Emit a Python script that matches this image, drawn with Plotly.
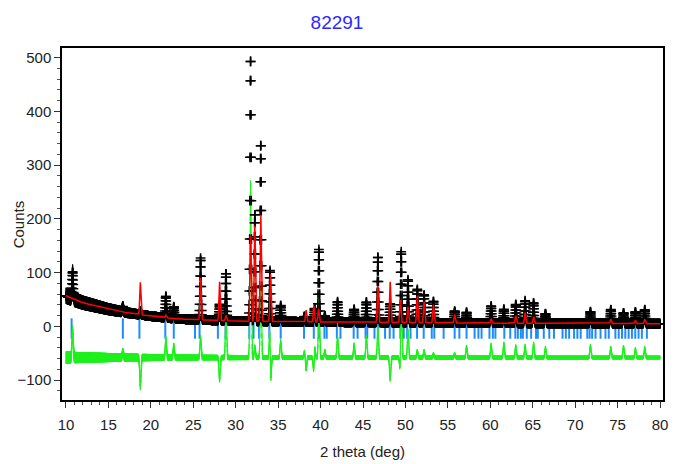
import numpy as np
import plotly.graph_objects as go

# Scan range (2theta, degrees)
scan_start, scan_end, scan_step = 10.0, 80.0, 0.02

# Refined background anchors
bg_theta = [10, 11, 12, 13, 14, 15, 17, 20, 23, 26, 30, 40, 50, 60, 80]
bg_counts = [57, 50, 44, 40, 36, 32, 26, 19, 14, 12, 10, 8, 7, 6, 5]

# Observed reflections: position (deg) and net height above background (counts)
obs_pos = [10.78, 16.7, 18.75, 21.77, 22.7, 25.86, 28.1, 28.85, 31.75, 32.25,
           32.95, 34.04, 35.3, 38.1, 39.3, 39.8, 40.5, 42.0, 43.95, 45.4,
           46.75, 48.2, 49.5, 50.3, 51.4, 52.2, 53.3, 55.8, 57.2, 60.1,
           61.6, 63.0, 64.1, 65.1, 66.5, 71.8, 74.2, 75.7, 77.1, 78.2]
obs_height = [50, 10, 6, 40, 22, 115, 30, 88, 488, 200,
              330, 95, 30, 10, 25, 135, 12, 38, 24, 38,
              122, 35, 132, 80, 62, 52, 40, 22, 20, 32,
              26, 35, 42, 38, 18, 22, 26, 20, 22, 26]

# Calculated reflections: position (deg) and net height above background (counts)
calc_pos = [18.76, 21.77, 25.86, 28.1, 28.85, 31.75, 32.25, 32.95, 34.1, 38.3,
            39.2, 39.76, 46.75, 48.2, 49.4, 50.3, 51.4, 52.2, 53.3, 55.8,
            60.1, 63.0, 64.1, 65.1, 74.2, 77.1, 78.2]
calc_height = [60, 5, 78, 72, 10, 160, 180, 200, 88, 22,
               30, 25, 68, 76, 42, 30, 50, 40, 34, 16,
               8, 14, 20, 12, 8, 6, 8]

# Bragg reflection markers (deg)
hkl_pos = [10.66, 16.7, 18.65, 21.7, 22.7, 25.2, 25.74, 27.9, 28.8, 31.6,
           32.1, 32.75, 33.96, 35.3, 38.05, 39.2, 39.8, 40.45, 40.72, 41.92,
           42.34, 43.9, 44.36, 45.3, 45.5, 46.35, 46.75, 47.6, 48.15, 48.6,
           49.4, 49.8, 50.2, 50.6, 51.37, 52.15, 53.1, 53.4, 54.5, 55.8,
           56.35, 57.2, 58.15, 58.6, 58.97, 59.9, 60.3, 60.6, 61.65, 62.35,
           62.95, 63.25, 63.6, 63.84, 64.3, 64.81, 65.39, 65.6, 66.3, 66.95,
           67.5, 68.51, 68.9, 69.29, 69.87, 70.26, 70.65, 71.43, 71.7, 72.0,
           72.4, 72.99, 73.57, 73.96, 74.74, 75.13, 75.52, 75.91, 76.3, 76.69,
           77.08, 77.47, 77.86, 78.45]

peak_fwhm = 0.17
diff_offset = -58
tick_top, tick_bottom = 15, -23

theta = np.arange(scan_start, scan_end + scan_step / 2, scan_step)
background = np.interp(theta, bg_theta, bg_counts)


def profile(positions, heights):
    sigma = peak_fwhm / 2.3548
    out = np.zeros_like(theta)
    for p, h in zip(positions, heights):
        out += h * np.exp(-0.5 * ((theta - p) / sigma) ** 2)
    return out


y_obs = background + profile(obs_pos, obs_height)
y_calc = background + profile(calc_pos, calc_height)
y_diff = y_obs - y_calc + diff_offset

# counting-statistics esd of the background level
esd = np.sqrt(background)

tick_x, tick_y = [], []
for p in hkl_pos:
    tick_x += [p, p, None]
    tick_y += [tick_top, tick_bottom, None]

font_family = "Liberation Sans Narrow, Arial Narrow, Liberation Sans, Arial, sans-serif"

fig = go.Figure()
fig.add_trace(go.Scatter(x=tick_x, y=tick_y, mode="lines",
                         line=dict(color="#1e8cff", width=2), hoverinfo="skip"))
fig.add_trace(go.Scatter(x=theta, y=y_diff, mode="lines",
                         line=dict(color="#1ef01e", width=1.2),
                         error_y=dict(type="data", array=1.5 * esd, visible=True,
                                      color="#1ef01e", thickness=1, width=0)))
fig.add_trace(go.Scatter(x=theta, y=y_obs, mode="markers",
                         marker=dict(symbol="cross-thin", size=7, color="black",
                                     line=dict(color="black", width=1.5)),
                         error_y=dict(type="data", array=2 * esd, visible=True,
                                      color="black", thickness=1, width=0)))
fig.add_trace(go.Scatter(x=theta, y=y_calc, mode="lines",
                         line=dict(color="#ff0000", width=1.5)))

axis_common = dict(
    showline=True, mirror=True, linecolor="black", linewidth=1.5,
    ticks="outside", ticklen=6, tickwidth=1, tickcolor="#333",
    showgrid=False, zeroline=False,
    tickfont=dict(family=font_family, size=15, color="#222"),
)

fig.update_layout(
    width=674, height=464,
    margin=dict(l=62, r=6, t=48, b=63),
    paper_bgcolor="white", plot_bgcolor="white",
    showlegend=False,
    title=dict(text="82291", x=0.5, xref="container", xanchor="center",
               y=1 - 22 / 464, yref="container", yanchor="middle",
               font=dict(family=font_family, size=19, color="#2a2aff")),
    xaxis=dict(
        range=[9.53, 80.35], tickmode="array",
        tickvals=list(range(10, 81, 5)),
        ticklabelstandoff=4,
        minor=dict(dtick=1, tick0=10, ticks="outside", ticklen=3, tickcolor="#555"),
        title=dict(text="2 theta (deg)", standoff=15,
                   font=dict(family=font_family, size=15, color="#222")),
        **axis_common,
    ),
    yaxis=dict(
        range=[-137, 518], tickmode="array",
        tickvals=list(range(-100, 501, 100)),
        minor=dict(dtick=20, tick0=0, ticks="outside", ticklen=3, tickcolor="#555"),
        **axis_common,
    ),
    annotations=[dict(
        text="Counts", textangle=-90, showarrow=False,
        xref="paper", yref="paper", x=-44 / 606, y=0.5,
        xanchor="center", yanchor="middle",
        font=dict(family=font_family, size=15, color="#222"),
    )],
)

fig.write_html("out.html")
